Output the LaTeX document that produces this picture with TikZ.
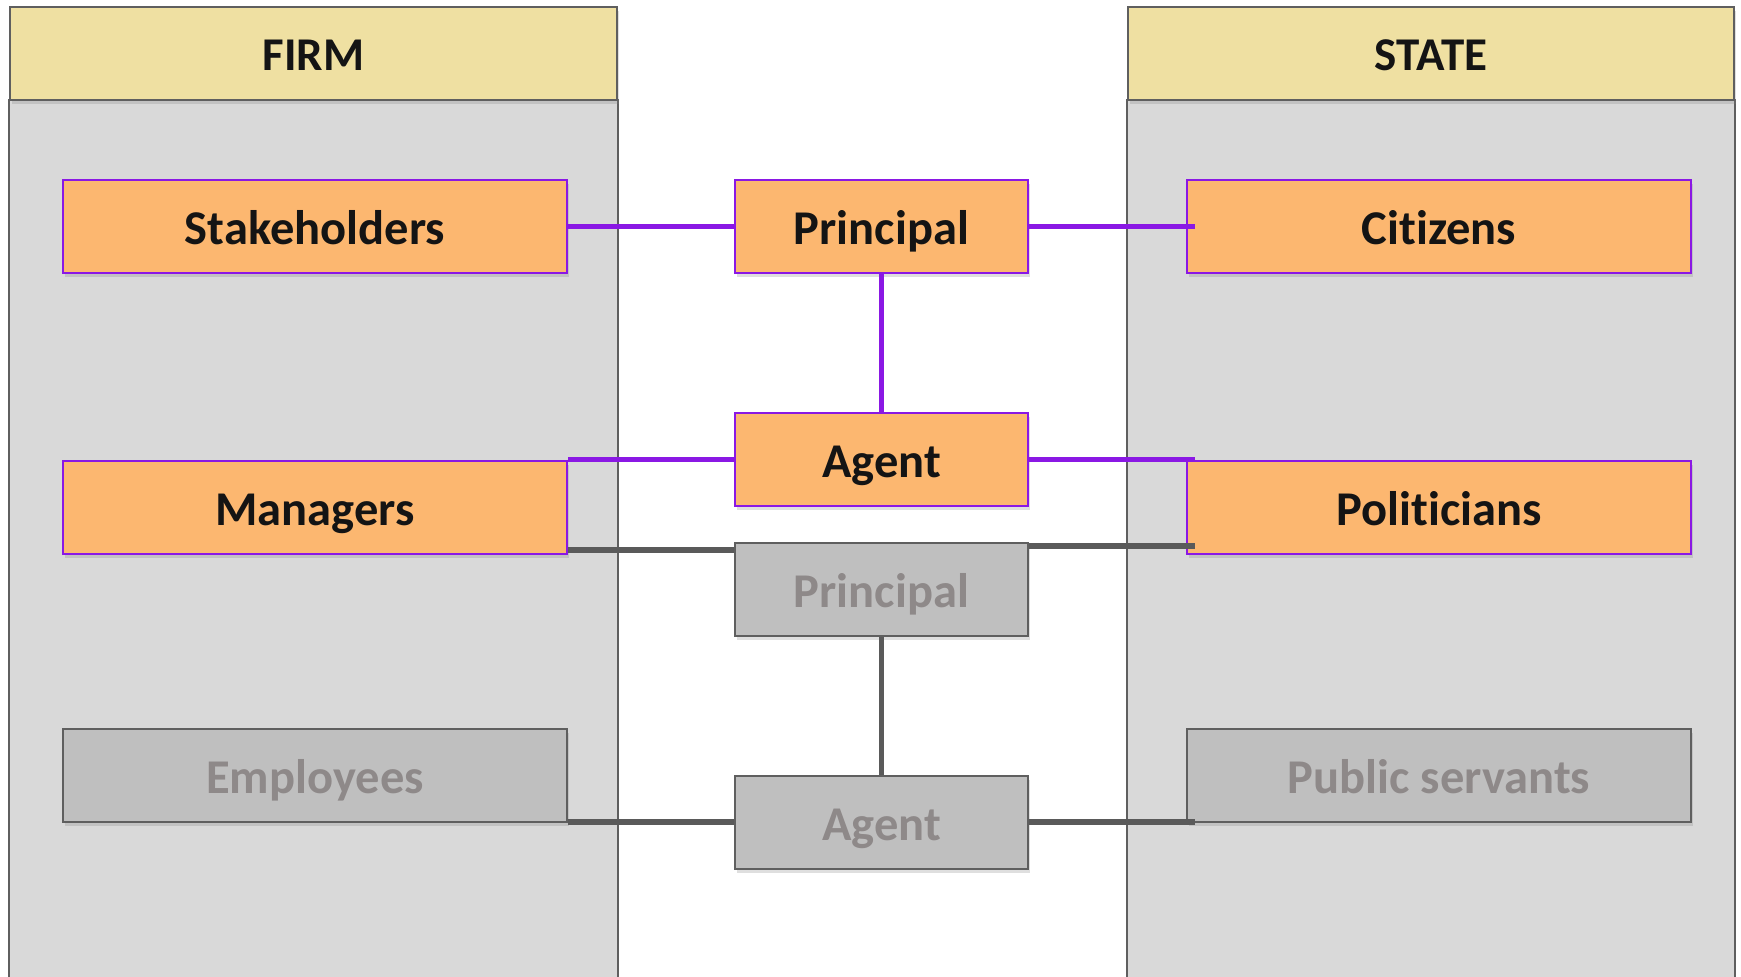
\documentclass[tikz,border=0pt]{standalone}
\usepackage{fontspec}
\setmainfont{Carlito}[Ligatures=NoCommon]
\usetikzlibrary{shadows}
\definecolor{hdr}{HTML}{EFE0A2}
\definecolor{pan}{HTML}{D9D9D9}
\definecolor{edge}{HTML}{5F5F5F}
\definecolor{org}{HTML}{FCB770}
\definecolor{pur}{HTML}{8A18E4}
\definecolor{gfill}{HTML}{BFBFBF}
\definecolor{gtext}{HTML}{8E8989}
\definecolor{gline}{HTML}{5A5A5A}
\tikzset{
  x=1pt, y=-1pt,
  shd/.style={drop shadow={opacity=0.25, shadow xshift=2pt, shadow yshift=-4pt}},
  actbox/.style={draw=pur, line width=2pt, fill=org, inner sep=0pt, shd,
    font=\fontsize{48.5}{56}\selectfont\bfseries, text=black!92,
    text height=36pt, text depth=0pt},
  inbox/.style={draw=edge, line width=2pt, fill=gfill, inner sep=0pt, shd,
    font=\fontsize{48.5}{56}\selectfont\bfseries, text=gtext,
    text height=36pt, text depth=0pt},
  wide/.style={minimum width=504pt, minimum height=93pt},
  mid/.style={minimum width=293pt, minimum height=93pt},
  pline/.style={draw=pur, line width=5.5pt},
  gl/.style={draw=gline, line width=5.5pt},
  hdrbox/.style={draw=edge, line width=2pt, fill=hdr, inner sep=0pt,
    font=\fontsize{47}{55}\selectfont\bfseries, text=black!92,
    text height=34pt, text depth=0pt},
}
\begin{document}
\begin{tikzpicture}
\useasboundingbox (0,0) rectangle (1741,977);
\fill[white] (0,0) rectangle (1741,977);
% panels
\draw[edge, line width=2pt, fill=pan] (9,100) rectangle (618,990);
\draw[edge, line width=2pt, fill=pan] (1127,100) rectangle (1735,990);
\node[hdrbox, shd, minimum width=607pt, minimum height=93pt] (firm) at (313.5,53) {FIRM};
\node[hdrbox, shd, minimum width=606pt, minimum height=93pt] (state) at (1431,53) {STATE};
% left column
\node[actbox, wide] (stk) at (315,226.5) {Stakeholders};
\node[actbox, wide] (man) at (315,507) {Managers};
\node[inbox, wide] (emp) at (315,775.5) {Employees};
% right column
\node[actbox, wide] (cit) at (1439,226.5) {Citizens};
\node[actbox, wide] (pol) at (1439,507) {Politicians};
\node[inbox, wide] (pub) at (1439,775.5) {Public servants};
% middle column
\node[actbox, mid] (pr1) at (881.5,226.5) {Principal};
\node[actbox, mid] (ag1) at (881.5,459.5) {Agent};
\node[inbox, mid] (pr2) at (881.5,589.5) {Principal};
\node[inbox, mid] (ag2) at (881.5,822) {Agent};
% free ends
\coordinate (cend) at (1195,228);
\coordinate (pend) at (1195,458.5);
\coordinate (gml) at (568,550);
\coordinate (gpr) at (1195,546);
\coordinate (gar) at (1195,822);
% purple connectors
\draw[pline] (stk.east |- pr1.west) -- (pr1.west);
\draw[pline] (pr1.east) -- (pr1.east -| cend);
\draw[pline] (pr1.south) -- (ag1.north);
\draw[pline] (ag1.west) -- (ag1.west -| man.east);
\draw[pline] (ag1.east) -- (ag1.east -| pend);
% gray connectors
\draw[gl] (pr2.west |- gml) -- (gml);
\draw[gl] (pr2.east |- gpr) -- (gpr);
\draw[gl] (pr2.south) -- (ag2.north);
\draw[gl] (ag2.west) -- (ag2.west -| emp.east);
\draw[gl] (ag2.east) -- (ag2.east -| gar);
\end{tikzpicture}
\end{document}
